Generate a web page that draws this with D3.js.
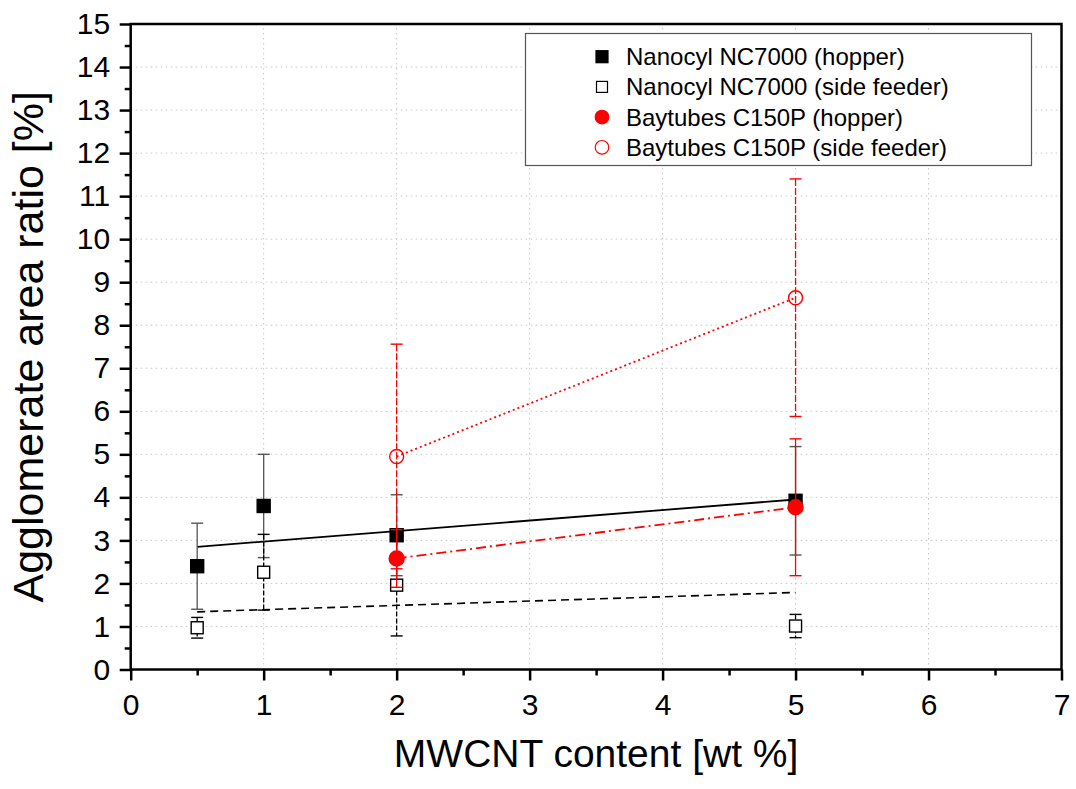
<!DOCTYPE html>
<html>
<head>
<meta charset="utf-8">
<script src="https://cdn.jsdelivr.net/npm/d3@7/dist/d3.min.js"></script>
<style>
  body { margin: 0; background: #fff; }
  text { font-family: "Liberation Sans", Arial, sans-serif; }
</style>
</head>
<body>
<svg id="chart" width="1076" height="789"></svg>
<script>
// ---- data ----
const xNC = [0.5, 1, 2, 5];
const ncHopper = [2.40, 3.80, 3.12, 3.92];
const ncHopperErr = [1.00, 1.20, 0.94, 1.26];
const ncSide = [0.97, 2.26, 1.96, 1.01];
const ncSideErr = [0.24, 0.88, 1.18, 0.27];
const xBay = [2, 5];
const bayHopper = [2.58, 3.77];
const bayHopperErr = [0.67, 1.59];
const baySide = [4.95, 8.64];
const baySideErr = [2.61, 2.76];
// linear fit lines (endpoints)
const fitNCHopper = [[0.5, 2.85], [5, 3.95]];
const fitNCSide = [[0.5, 1.34], [5, 1.79]];
const fitBayHopper = [[2, 2.58], [5, 3.77]];
const fitBaySide = [[2, 4.95], [5, 8.64]];
const xTicks = [0, 1, 2, 3, 4, 5, 6, 7];
const yTicks = [0,1,2,3,4,5,6,7,8,9,10,11,12,13,14,15];
const legendLabels = [
  "Nanocyl NC7000 (hopper)",
  "Nanocyl NC7000 (side feeder)",
  "Baytubes C150P (hopper)",
  "Baytubes C150P (side feeder)"
];

// ---- layout ----
const L = 130.7, R = 1061.5, T = 24, B = 669.5;
const svg = d3.select("#chart");
const x = d3.scaleLinear().domain([0, 7]).range([L, R]);
const y = d3.scaleLinear().domain([0, 15]).range([B, T]);

// grid
const grid = svg.append("g").attr("stroke", "#c8c8c8").attr("stroke-width", 1)
  .attr("stroke-dasharray", "1.5,3.5");
xTicks.slice(1, -1).forEach(t => grid.append("line")
  .attr("x1", x(t)).attr("x2", x(t)).attr("y1", B).attr("y2", T));
yTicks.slice(1, -1).forEach(t => grid.append("line")
  .attr("x1", L).attr("x2", R).attr("y1", y(t)).attr("y2", y(t)));

// axes
const xAxis = d3.axisBottom(x).tickValues(xTicks).tickSize(11).tickPadding(13).tickFormat(d3.format("d"));
const yAxis = d3.axisLeft(y).tickValues(yTicks).tickSize(11).tickPadding(9.5).tickFormat(d3.format("d"));
const xMinor = d3.axisBottom(x).tickValues(d3.range(0.5, 7, 1)).tickSize(6).tickFormat("");
const yMinor = d3.axisLeft(y).tickValues(d3.range(0.5, 15, 1)).tickSize(6).tickFormat("");

function styleAxis(g) {
  g.select(".domain").remove();
  g.selectAll("line").attr("stroke", "#000").attr("stroke-width", 2.5);
  g.selectAll("text").attr("font-size", 30).attr("fill", "#000")
    .attr("font-family", "'Liberation Sans', Arial, sans-serif");
}
svg.append("g").attr("transform", `translate(0,${B})`).call(xAxis).call(styleAxis);
svg.append("g").attr("transform", `translate(0,${B})`).call(xMinor).call(styleAxis);
svg.append("g").attr("transform", `translate(${L},0)`).call(yAxis).call(styleAxis);
svg.append("g").attr("transform", `translate(${L},0)`).call(yMinor).call(styleAxis);

// frame
svg.append("rect").attr("x", L).attr("y", T).attr("width", R - L).attr("height", B - T)
  .attr("fill", "none").attr("stroke", "#000").attr("stroke-width", 2.5);

// axis titles
svg.append("text").attr("x", (L + R) / 2).attr("y", 767).attr("text-anchor", "middle")
  .attr("font-size", 39).text("MWCNT content [wt %]");
svg.append("text").attr("transform", `translate(43,${(T + B) / 2}) rotate(-90)`)
  .attr("text-anchor", "middle").attr("font-size", 43).text("Agglomerate area ratio [%]");

// fit lines
const line = d3.line().x(d => x(d[0])).y(d => y(d[1]));
const fits = [
  {d: fitNCHopper, c: "#000", dash: null, w: 1.8},
  {d: fitNCSide, c: "#000", dash: "8,5", w: 1.6},
  {d: fitBayHopper, c: "#ff0000", dash: "10,4,2,4", w: 1.8},
  {d: fitBaySide, c: "#ff0000", dash: "2,3", w: 1.8}
];
fits.forEach(f => svg.append("path").attr("d", line(f.d)).attr("fill", "none")
  .attr("stroke", f.c).attr("stroke-width", f.w).attr("stroke-dasharray", f.dash));

// series
const series = [
  {xs: xNC, ys: ncHopper, es: ncHopperErr, ec: "#555", edash: null, shape: "square", fill: "#000", stroke: "#000", size: 13},
  {xs: xNC, ys: ncSide, es: ncSideErr, ec: "#000", edash: "5,2", shape: "square", fill: "#fff", stroke: "#000", size: 12},
  {xs: xBay, ys: bayHopper, es: bayHopperErr, ec: "#ff0000", edash: null, shape: "circle", fill: "#ff0000", stroke: "#ff0000", size: 15},
  {xs: xBay, ys: baySide, es: baySideErr, ec: "#ff0000", edash: "7,2", shape: "circle", fill: "none", stroke: "#ff0000", size: 14}
];
const capW = 12;
series.forEach(s => {
  const g = svg.append("g");
  s.xs.forEach((xv, i) => {
    const cx = x(xv), top = y(s.ys[i] + s.es[i]), bot = y(s.ys[i] - s.es[i]);
    g.append("line").attr("x1", cx).attr("x2", cx).attr("y1", top).attr("y2", bot)
      .attr("stroke", s.ec).attr("stroke-width", 1.3).attr("stroke-dasharray", s.edash);
    [top, bot].forEach(yy => g.append("line").attr("x1", cx - capW / 2).attr("x2", cx + capW / 2)
      .attr("y1", yy).attr("y2", yy).attr("stroke", s.ec).attr("stroke-width", 1.4));
  });
  s.xs.forEach((xv, i) => {
    const cx = x(xv), cy = y(s.ys[i]);
    if (s.shape === "square") {
      g.append("rect").attr("x", cx - s.size / 2).attr("y", cy - s.size / 2)
        .attr("width", s.size).attr("height", s.size).attr("fill", s.fill)
        .attr("stroke", s.stroke).attr("stroke-width", 1.4);
    } else {
      g.append("circle").attr("cx", cx).attr("cy", cy).attr("r", s.size / 2)
        .attr("fill", s.fill).attr("stroke", s.stroke).attr("stroke-width", 1.4);
    }
  });
});

// legend
const lg = svg.append("g");
lg.append("rect").attr("x", 525.5).attr("y", 33.5).attr("width", 506).attr("height", 132)
  .attr("fill", "#fff").attr("stroke", "#555").attr("stroke-width", 1.2);
legendLabels.forEach((lab, i) => {
  const s = series[i];
  const cy = 56.7 + i * 30.2, cx = 602;
  if (s.shape === "square") {
    lg.append("rect").attr("x", cx - (s.size - 1) / 2).attr("y", cy - (s.size - 1) / 2)
      .attr("width", s.size - 1).attr("height", s.size - 1)
      .attr("fill", s.fill).attr("stroke", s.stroke).attr("stroke-width", 1.2);
  } else {
    lg.append("circle").attr("cx", cx).attr("cy", cy).attr("r", 6.8)
      .attr("fill", s.fill).attr("stroke", s.stroke).attr("stroke-width", 1.2);
  }
  lg.append("text").attr("x", 626).attr("y", cy + 8.5).attr("font-size", 24).text(lab);
});
</script>
</body>
</html>
